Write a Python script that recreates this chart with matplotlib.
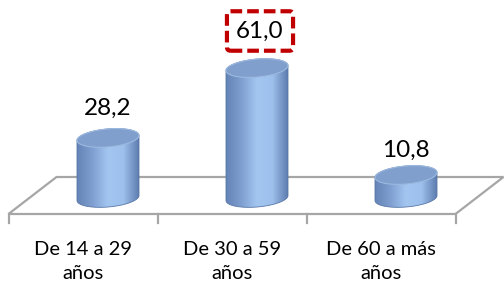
import numpy as np
import matplotlib
matplotlib.use('Agg')
import matplotlib.pyplot as plt
from matplotlib.patches import Polygon
from matplotlib.colors import LinearSegmentedColormap

# data
categories = ["De 14 a 29\naños", "De 30 a 59\naños", "De 60 a más\naños"]
values = [28.2, 61.0, 10.8]
highlight = 1  # the bar whose label gets the red dashed box

plt.rcParams['font.family'] = ['Lato', 'DejaVu Sans']

fig = plt.figure(figsize=(5.04, 2.85), dpi=100)
ax = fig.add_axes([0, 0, 1, 1])

# pixel layout -> data scale (x: category index, y: value)
px_per_cat = 149.0
px_per_val = 2.13
x0_px = 108.0   # pixel x of first bar centre
base_px = 198.0  # pixel y of bar bases
ax.set_xlim(-x0_px / px_per_cat, (504 - x0_px) / px_per_cat)
ax.set_ylim((base_px - 285) / px_per_val, base_px / px_per_val)
ax.axis('off')

def dx(p):
    return p / px_per_cat

def dy(p):
    return p / px_per_val

n = len(values)

# floor (parallelogram), front edge a bit lower/left of bar bases, back edge behind
front_y, back_y = dy(-16), dy(21)
front_shift, back_shift = dx(-25), dx(23)
floor = [(-0.5 + front_shift, front_y), (n - 0.5 + front_shift, front_y),
         (n - 0.5 + back_shift, back_y), (-0.5 + back_shift, back_y)]
ax.add_patch(Polygon(floor, closed=True, facecolor='white', edgecolor='#a6a6a6',
                     linewidth=1.6, zorder=1))
for k in range(n + 1):
    xt = k - 0.5 + front_shift
    ax.plot([xt, xt], [front_y, front_y - dy(9)], color='#a6a6a6', lw=1.6, zorder=1)

# cylinder colours
body_cmap = LinearSegmentedColormap.from_list(
    'cyl', ['#6483b6', '#7f9fd0', '#a3c6f1', '#9dc0ec', '#5e7daf'], N=256)
grad = np.linspace(0, 1, 256).reshape(1, -1)

a = dx(31)    # half width
b = dy(9)     # ellipse half height
tilt = dy(2.5)
t = np.linspace(0, 2 * np.pi, 120)

for i, v in enumerate(values):
    cx = i
    # lower half of bottom ellipse, then upper half of top ellipse
    tb = np.linspace(np.pi, 2 * np.pi, 60)
    tt = np.linspace(0, np.pi, 60)
    bx = cx + a * np.cos(tb)
    by = 0 + b * np.sin(tb) + tilt * np.cos(tb)
    tx = cx + a * np.cos(tt)
    ty = v + b * np.sin(tt) + tilt * np.cos(tt)
    body = Polygon(np.column_stack([np.r_[bx, tx], np.r_[by, ty]]), closed=True,
                   facecolor='none', edgecolor='#5a78a8', linewidth=0.6, zorder=3)
    ax.add_patch(body)
    im = ax.imshow(grad, cmap=body_cmap, aspect='auto', interpolation='bilinear',
                   extent=[cx - a, cx + a, -b - tilt - 1, v + b + tilt + 1], zorder=2)
    im.set_clip_path(body)

    # top face
    ex = cx + a * np.cos(t)
    ey = v + b * np.sin(t) + tilt * np.cos(t)
    ax.add_patch(Polygon(np.column_stack([ex, ey]), closed=True, facecolor='#819fcc',
                         edgecolor='#9cb9e0', linewidth=0.8, zorder=4))

    # value label, perspective pushes it a little higher for taller bars
    lbl = f"{v:.1f}".replace('.', ',')
    ly = dy(22.4) + v * 1.113
    if i == highlight:
        ax.text(cx + dx(3), ly, lbl, ha='center', va='center', fontsize=17.5, color='black',
                zorder=6,
                bbox=dict(boxstyle='round,pad=0.38,rounding_size=0.15', facecolor='white',
                          edgecolor='#c00000', linewidth=3.0, linestyle=(0, (2.8, 1.2))))
    else:
        ax.text(cx, ly, lbl, ha='center', va='center', fontsize=17.5, color='black', zorder=6)

    ax.text(i + front_shift, dy(-63.5), categories[i], ha='center', va='center',
            fontsize=14.5, color='black', linespacing=1.5)

fig.savefig('out.png', dpi=100)
